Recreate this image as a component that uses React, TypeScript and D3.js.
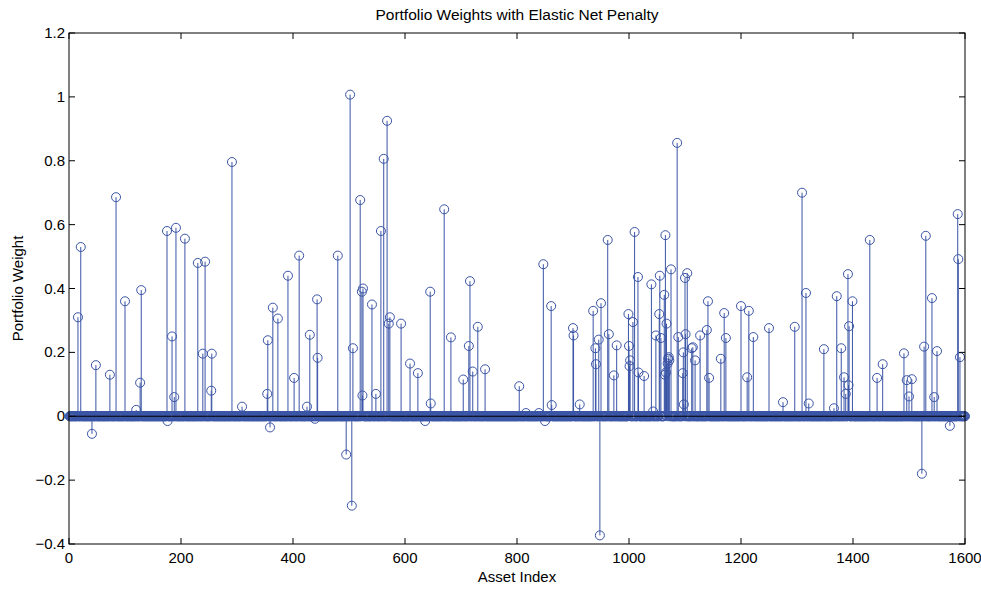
import * as d3 from 'd3';
import React, { useRef, useEffect } from 'react';

// asset count and the non-zero weights
const assetCount = 1600;

const activeAssets = [
    16, 21, 41, 48, 73, 84, 100, 120, 127, 129, 175, 176, 184, 188, 191, 207, 230, 239, 243, 254,
    255, 291, 309, 354, 355, 359, 364, 373, 391, 402, 411, 425, 430, 439, 443, 444, 480, 495, 502, 505,
    507, 520, 523, 524, 525, 541, 548, 557, 562, 568, 571, 573, 593, 609, 623, 636, 645, 646, 670, 682,
    704, 714, 716, 721, 730, 743, 804, 816, 839, 847, 850, 861, 862, 900, 901, 912, 936, 940, 941, 946,
    948, 950, 962, 964, 973, 978, 999, 1000, 1001, 1002, 1007, 1010, 1016, 1017, 1027, 1040, 1043, 1048, 1054, 1055,
    1057, 1063, 1064, 1065, 1066, 1067, 1069, 1070, 1071, 1072, 1075, 1086, 1088, 1096, 1097, 1098, 1100, 1101, 1104, 1112,
    1114, 1118, 1127, 1139, 1141, 1143, 1164, 1170, 1173, 1200, 1211, 1214, 1222, 1250, 1275, 1296, 1309, 1316, 1321, 1348,
    1366, 1371, 1379, 1384, 1387, 1391, 1392, 1393, 1399, 1430, 1443, 1453, 1491, 1496, 1500, 1505, 1523, 1527, 1530, 1541,
    1545, 1550, 1573, 1587, 1588, 1591
];

const activeWeights = [
    0.31, 0.53, -0.055, 0.16, 0.13, 0.686, 0.36, 0.02, 0.105, 0.395, 0.58, -0.015, 0.25, 0.06, 0.59, 0.556, 0.48, 0.196, 0.484, 0.08,
    0.196, 0.796, 0.03, 0.07, 0.238, -0.035, 0.34, 0.306, 0.44, 0.12, 0.503, 0.03, 0.255, -0.008, 0.366, 0.183, 0.503, -0.12, 1.007, -0.28,
    0.213, 0.677, 0.39, 0.065, 0.4, 0.35, 0.07, 0.58, 0.806, 0.925, 0.29, 0.31, 0.29, 0.165, 0.135, -0.015, 0.39, 0.04, 0.648, 0.247,
    0.115, 0.22, 0.423, 0.14, 0.28, 0.147, 0.094, 0.01, 0.01, 0.476, -0.015, 0.345, 0.035, 0.276, 0.253, 0.037, 0.33, 0.213, 0.163, 0.24,
    -0.373, 0.354, 0.552, 0.257, 0.128, 0.222, 0.32, 0.22, 0.157, 0.175, 0.295, 0.577, 0.436, 0.137, 0.126, 0.413, 0.015, 0.253, 0.32, 0.44,
    0.245, 0.38, 0.13, 0.567, 0.137, 0.29, 0.165, 0.18, 0.185, 0.175, 0.46, 0.856, 0.248, 0.135, 0.2, 0.037, 0.433, 0.257, 0.448, 0.213,
    0.216, 0.175, 0.253, 0.27, 0.36, 0.12, 0.18, 0.323, 0.245, 0.345, 0.122, 0.33, 0.248, 0.276, 0.044, 0.28, 0.7, 0.386, 0.04, 0.21,
    0.025, 0.376, 0.213, 0.122, 0.07, 0.445, 0.097, 0.282, 0.36, 0.552, 0.12, 0.163, 0.197, 0.113, 0.062, 0.116, -0.18, 0.218, 0.565, 0.37,
    0.06, 0.204, -0.03, 0.633, 0.492, 0.185
];

const xTicks = [0, 200, 400, 600, 800, 1000, 1200, 1400, 1600];
const yTicks = [-0.4, -0.2, 0, 0.2, 0.4, 0.6, 0.8, 1, 1.2];

const StemChart = () => {
    const svgRef = useRef(null);

    useEffect(() => {
        const width = 981;
        const height = 589;
        const margin = { top: 33, right: 16, bottom: 45, left: 69 };
        const blue = '#3a54a6';
        const font = '"Liberation Sans", Arial, Helvetica, sans-serif';

        const svg = d3.select(svgRef.current);
        svg.selectAll('*').remove();
        svg.attr('width', width).attr('height', height);

        // full weight vector, zeros except the active assets
        const weights = d3.range(1, assetCount + 1).map(() => 0);
        activeAssets.forEach((a, i) => { weights[a - 1] = activeWeights[i]; });
        const points = weights.map((w, i) => ({ idx: i + 1, w }));

        const x = d3.scaleLinear().domain([0, 1600]).range([margin.left, width - margin.right]);
        const y = d3.scaleLinear().domain([-0.4, 1.2]).range([height - margin.bottom, margin.top]);

        const x0 = x.range()[0], x1 = x.range()[1];
        const y0 = y.range()[1], y1 = y.range()[0];

        svg.append('rect')
            .attr('width', width).attr('height', height).attr('fill', '#fff');

        // stems
        svg.append('g')
            .selectAll('line')
            .data(points.filter((d) => d.w !== 0))
            .join('line')
            .attr('x1', (d) => x(d.idx)).attr('x2', (d) => x(d.idx))
            .attr('y1', y(0)).attr('y2', (d) => y(d.w))
            .attr('stroke', blue).attr('stroke-width', 1);

        // markers, every asset gets one
        svg.append('g')
            .selectAll('circle')
            .data(points)
            .join('circle')
            .attr('cx', (d) => x(d.idx))
            .attr('cy', (d) => y(d.w))
            .attr('r', 4.5)
            .attr('fill', 'none')
            .attr('stroke', blue)
            .attr('stroke-width', 1);

        // baseline
        svg.append('line')
            .attr('x1', x0).attr('x2', x1)
            .attr('y1', y(0)).attr('y2', y(0))
            .attr('stroke', '#000').attr('stroke-width', 1);

        // axes box with inward ticks on all sides
        const frame = svg.append('g').attr('stroke', '#000').attr('fill', 'none');
        frame.append('rect')
            .attr('x', x0).attr('y', y0)
            .attr('width', x1 - x0).attr('height', y1 - y0)
            .attr('stroke-width', 1);

        const tickLen = 6;
        xTicks.forEach((t) => {
            frame.append('line').attr('x1', x(t)).attr('x2', x(t)).attr('y1', y1).attr('y2', y1 - tickLen);
            frame.append('line').attr('x1', x(t)).attr('x2', x(t)).attr('y1', y0).attr('y2', y0 + tickLen);
        });
        yTicks.forEach((t) => {
            frame.append('line').attr('x1', x0).attr('x2', x0 + tickLen).attr('y1', y(t)).attr('y2', y(t));
            frame.append('line').attr('x1', x1).attr('x2', x1 - tickLen).attr('y1', y(t)).attr('y2', y(t));
        });

        const fmt = d3.format('~g');

        svg.append('g')
            .selectAll('text')
            .data(xTicks)
            .join('text')
            .attr('x', (d) => x(d))
            .attr('y', y1 + 19)
            .attr('text-anchor', 'middle')
            .attr('font-family', font).attr('font-size', 15)
            .text((d) => fmt(d));

        svg.append('g')
            .selectAll('text')
            .data(yTicks)
            .join('text')
            .attr('x', x0 - 4)
            .attr('y', (d) => y(d) + 5)
            .attr('text-anchor', 'end')
            .attr('font-family', font).attr('font-size', 15)
            .text((d) => fmt(d));

        svg.append('text')
            .attr('x', (x0 + x1) / 2).attr('y', 20)
            .attr('text-anchor', 'middle')
            .attr('font-family', font).attr('font-size', 15.5)
            .text('Portfolio Weights with Elastic Net Penalty');

        svg.append('text')
            .attr('x', (x0 + x1) / 2).attr('y', 582)
            .attr('text-anchor', 'middle')
            .attr('font-family', font).attr('font-size', 15)
            .text('Asset Index');

        svg.append('text')
            .attr('transform', `translate(23, ${(y0 + y1) / 2}) rotate(-90)`)
            .attr('text-anchor', 'middle')
            .attr('font-family', font).attr('font-size', 15)
            .text('Portfolio Weight');
    }, []);

    return <svg ref={svgRef} style={{ position: 'absolute', left: 0, top: 0, display: 'block' }}></svg>;
};

export default function App() {
    return <StemChart />;
}
